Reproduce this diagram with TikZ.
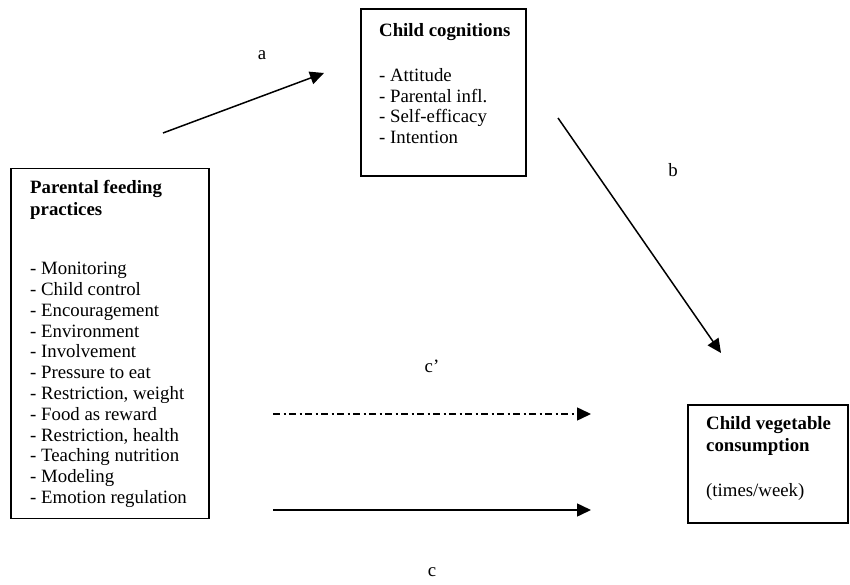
\documentclass[tikz,border=0pt]{standalone}
\usepackage{fontspec}
\setmainfont{Liberation Serif}
\usetikzlibrary{arrows.meta}
\begin{document}
\begin{tikzpicture}[x=1pt,y=-1pt,
  boxframe/.style={draw,line width=1.5pt,rectangle,inner sep=0pt},
  boxtext/.style={anchor=north west,align=left,inner sep=0pt,font=\fontsize{18.8}{20.8}\selectfont},
  lbl/.style={inner sep=0pt,font=\fontsize{18.8}{20.8}\selectfont},
  arr/.style={line width=1.5pt,-{Triangle[length=14pt,width=13pt]}},
  dashdot/.style={dash pattern=on 7pt off 3.5pt on 2pt off 3.5pt}]
\useasboundingbox (0,0) rectangle (850,585);
% boxes
\node[boxframe,minimum width=198pt,minimum height=350pt] (ppf) at (110,343.5) {};
\node[boxframe,minimum width=165pt,minimum height=167pt] (cc) at (443.5,92.5) {};
\node[boxframe,minimum width=160pt,minimum height=118pt] (cvc) at (768,464) {};
% texts
\node[boxtext] (ppft) at (30,180) {\textbf{Parental feeding}\\[1pt]\textbf{practices}};
\node[boxtext] (ppfl) at (30,262) {- Monitoring\\- Child control\\- Encouragement\\- Environment\\- Involvement\\- Pressure to eat\\- Restriction, weight\\- Food as reward\\- Restriction, health\\- Teaching nutrition\\- Modeling\\- Emotion regulation};
\node[boxtext] (cct) at (379,23) {\textbf{Child cognitions}};
\node[boxtext] (ccl) at (379,68) {- Attitude\\- Parental infl.\\- Self-efficacy\\- Intention};
\node[boxtext] (cvct) at (706,416) {\textbf{Child vegetable}\\[1pt]\textbf{consumption}};
\node[boxtext] (cvcl) at (706,483) {(times/week)};
% arrow end points
\coordinate (a1) at (163,133);
\coordinate (a2) at (324,73);
\coordinate (b1) at (558,118);
\coordinate (b2) at (721,353);
\coordinate (cp1) at (273,414);
\coordinate (cp2) at (591,414);
\coordinate (c1) at (273,510);
\coordinate (c2) at (591,510);
\draw[arr] (a1) -- (a2);
\draw[arr] (b1) -- (b2);
\draw[arr,dashdot] (cp1) -- (cp2);
\draw[arr] (c1) -- (c2);
% labels
\node[lbl] (la) at (262,55) {a};
\node[lbl] (lb) at (673,170) {b};
\node[lbl] (lcp) at (432,366) {c’};
\node[lbl] (lc) at (432,572) {c};
\end{tikzpicture}
\end{document}
